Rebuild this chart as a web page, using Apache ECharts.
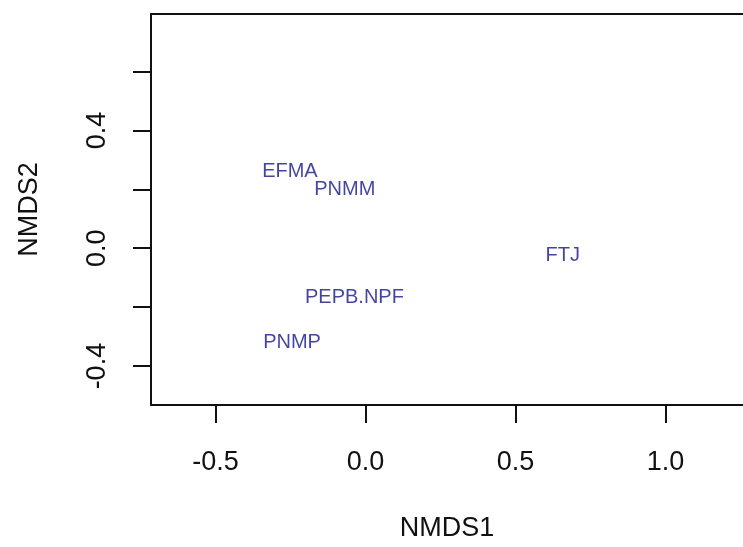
<!DOCTYPE html>
<html>
<head>
<meta charset="utf-8">
<script src="https://cdn.jsdelivr.net/npm/echarts@6/dist/echarts.min.js"></script>
<style>
html,body{margin:0;padding:0;background:#fff;}
#chart{width:743px;height:547px;}
</style>
</head>
<body>
<div id="chart"></div>
<script>
// Data
const names = ['EFMA', 'PNMM', 'FTJ', 'PEPB.NPF', 'PNMP'];
const nmds1 = [-0.252, -0.069, 0.657, -0.037, -0.245];
const nmds2 = [0.259, 0.198, -0.025, -0.168, -0.321];
const xTicks = [-0.5, 0.0, 0.5, 1.0];
const yTicks = [-0.4, -0.2, 0.0, 0.2, 0.4, 0.6];
const yTickLabels = [-0.4, 0.0, 0.4];
const xTitle = 'NMDS1';
const yTitle = 'NMDS2';

const points = names.map((n, i) => ({ name: n, value: [nmds1[i], nmds2[i]] }));
const ink = '#111111';
const font = 'Liberation Sans, Arial, sans-serif';
const xMin = -0.715, xMax = 1.258;

const chart = echarts.init(document.getElementById('chart'));
chart.setOption({
  animation: false,
  backgroundColor: '#ffffff',
  grid: { left: 151, top: 14, right: 0, bottom: 138, show: false },
  xAxis: [{
    type: 'value', min: xMin, max: xMax,
    axisLine: { show: true, onZero: false, lineStyle: { color: ink, width: 2 } },
    axisTick: { show: true, inside: false, length: 18, customValues: xTicks, lineStyle: { color: ink, width: 2 } },
    axisLabel: {
      customValues: xTicks, margin: 44, fontSize: 27, lineHeight: 27, color: ink, fontFamily: font,
      formatter: v => v.toFixed(1)
    },
    splitLine: { show: false },
    name: xTitle, nameLocation: 'middle', nameGap: 110,
    nameTextStyle: { fontSize: 27, color: ink, fontFamily: font }
  }, {
    type: 'value', min: xMin, max: xMax, position: 'top',
    axisLine: { show: true, onZero: false, lineStyle: { color: ink, width: 2 } },
    axisTick: { show: false }, axisLabel: { show: false }, splitLine: { show: false }
  }],
  yAxis: {
    type: 'value', min: -0.532, max: 0.795,
    axisLine: { show: true, onZero: false, lineStyle: { color: ink, width: 2 } },
    axisTick: { show: true, inside: false, length: 18, customValues: yTicks, lineStyle: { color: ink, width: 2 } },
    axisLabel: {
      customValues: yTickLabels, rotate: 90, margin: 40, fontSize: 27, lineHeight: 27, color: ink, fontFamily: font,
      formatter: v => v.toFixed(1)
    },
    splitLine: { show: false },
    name: yTitle, nameLocation: 'middle', nameGap: 108,
    nameTextStyle: { fontSize: 27, color: ink, fontFamily: font }
  },
  series: [{
    type: 'scatter',
    xAxisIndex: 0,
    data: points,
    symbolSize: 1,
    itemStyle: { color: 'rgba(0,0,0,0)' },
    label: {
      show: true, position: 'inside', formatter: p => p.name,
      color: '#14148a', fontSize: 20, fontFamily: font
    }
  }]
});
</script>
</body>
</html>
